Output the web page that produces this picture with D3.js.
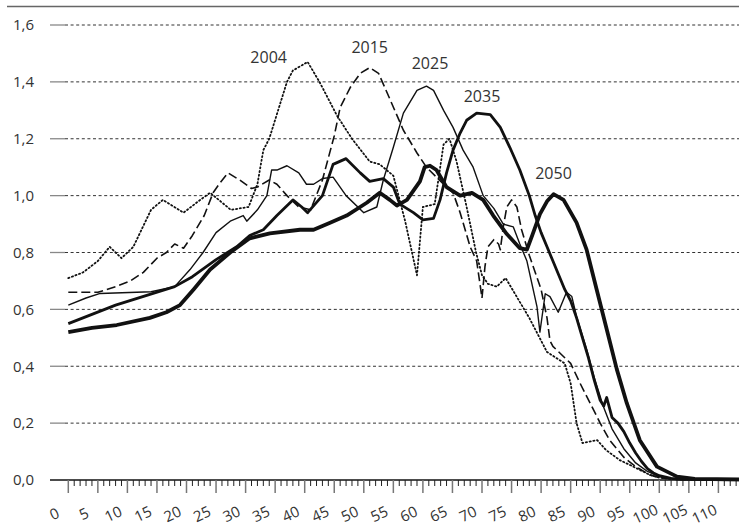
<!DOCTYPE html>
<html>
<head>
<meta charset="utf-8">
<script src="https://cdn.jsdelivr.net/npm/d3@7"></script>
<style>
  body { margin: 0; background: #fff; }
  text { font-family: 'Open Sans', 'Noto Sans', sans-serif; fill: #333; }
</style>
</head>
<body>
<svg id="chart" width="739" height="529"></svg>
<script>
// values: knots (age, ratio) for each projection year
const ages2004 = [0, 2.5, 5, 7, 9, 11, 14, 16, 19.5, 22, 24, 27.5, 30.5, 32, 33, 34, 37, 38, 40.5, 42.5, 45.5, 48, 51, 52.7, 55, 57, 59, 60, 62, 63.5, 64.5, 65.7, 67.4, 69, 70, 71, 72.5, 74, 76, 78, 80, 81, 84, 85, 86, 87, 89.5, 91, 93.3, 95.6, 98.4, 100, 103, 114];
const vals2004 = [0.71, 0.73, 0.77, 0.82, 0.78, 0.82, 0.95, 0.985, 0.94, 0.98, 1.01, 0.95, 0.96, 1.04, 1.16, 1.2, 1.40, 1.44, 1.47, 1.40, 1.28, 1.2, 1.12, 1.11, 1.07, 0.91, 0.72, 0.96, 0.97, 1.18, 1.2, 1.12, 0.96, 0.80, 0.72, 0.69, 0.68, 0.71, 0.64, 0.57, 0.49, 0.45, 0.41, 0.34, 0.20, 0.13, 0.14, 0.105, 0.07, 0.047, 0.018, 0.008, 0.002, 0];

const ages2015 = [0, 5, 8, 10.5, 12.7, 15, 16.6, 18, 19.5, 21, 23, 24.5, 25.5, 27, 29, 31, 32, 34, 35.3, 37, 39, 41, 43, 45, 46, 47.7, 49.4, 51, 52.5, 54.4, 56.7, 59, 60.6, 62.3, 64, 65.1, 66.3, 68, 69.1, 70, 70.5, 71, 72, 72.8, 73.1, 73.6, 74.2, 75, 75.9, 76.7, 78, 80, 81, 81.5, 82, 84, 85, 86.6, 88.3, 90, 91.6, 94, 96, 98.4, 100, 103, 114];
const vals2015 = [0.66, 0.66, 0.68, 0.70, 0.73, 0.78, 0.80, 0.83, 0.815, 0.86, 0.93, 1.01, 1.04, 1.08, 1.055, 1.025, 1.03, 1.055, 1.04, 1.0, 0.96, 0.95, 1.055, 1.21, 1.31, 1.38, 1.43, 1.45, 1.43, 1.34, 1.23, 1.15, 1.10, 1.065, 1.03, 1.01, 0.94, 0.82, 0.77, 0.64, 0.75, 0.82, 0.845, 0.83, 0.81, 0.89, 0.96, 0.985, 0.96, 0.88, 0.79, 0.67, 0.57, 0.49, 0.47, 0.43, 0.41, 0.34, 0.27, 0.2, 0.14, 0.08, 0.047, 0.018, 0.008, 0.002, 0];

const ages2025 = [0, 3, 5.4, 14, 18, 20.6, 22.8, 25, 27.4, 29.6, 30.2, 32, 33.6, 34.4, 35.3, 37, 39, 40.3, 41.5, 43, 44.8, 47, 50, 52.2, 53.3, 55, 56.7, 59, 60.6, 61.8, 63.5, 65.1, 66.8, 68.5, 70.2, 72, 73.6, 75.3, 76.4, 77.6, 79.3, 79.8, 80.7, 81.5, 82.9, 84.3, 85.2, 86, 87.7, 89, 90.5, 92, 94, 96, 98, 100, 103, 114];
const vals2025 = [0.615, 0.64, 0.656, 0.662, 0.68, 0.74, 0.80, 0.87, 0.91, 0.93, 0.91, 0.95, 1.0, 1.09, 1.09, 1.105, 1.08, 1.04, 1.04, 1.06, 1.065, 1.0, 0.94, 0.96, 1.055, 1.17, 1.29, 1.37, 1.385, 1.37, 1.30, 1.24, 1.16, 1.10, 1.0, 0.955, 0.90, 0.89, 0.83, 0.77, 0.61, 0.52, 0.655, 0.645, 0.59, 0.66, 0.645, 0.575, 0.46, 0.36, 0.26, 0.18, 0.11, 0.06, 0.03, 0.012, 0.003, 0];

const ages2035 = [0, 8, 18, 21, 25, 28.5, 30.7, 33, 35.3, 38, 39.5, 40.5, 43, 44.8, 47, 49.4, 51, 53.3, 55, 56.1, 58.4, 60, 61.8, 62.9, 64, 65.1, 66.3, 67.4, 69.1, 71.4, 73.1, 74.7, 76.4, 78, 79, 80, 81, 82, 83, 84, 85, 86, 87, 88, 89, 90, 90.6, 91.1, 92, 93, 94, 95, 96, 97, 98, 99, 100, 102, 104, 114];
const vals2035 = [0.55, 0.615, 0.68, 0.715, 0.775, 0.82, 0.86, 0.88, 0.93, 0.985, 0.96, 0.94, 1.0, 1.11, 1.13, 1.08, 1.05, 1.06, 1.03, 0.97, 0.94, 0.915, 0.92, 0.985, 1.08, 1.16, 1.22, 1.265, 1.29, 1.285, 1.24, 1.17, 1.09, 1.0, 0.93, 0.87, 0.82, 0.77, 0.72, 0.67, 0.63, 0.57, 0.5, 0.43, 0.35, 0.28, 0.26, 0.29, 0.22, 0.2, 0.17, 0.13, 0.095, 0.065, 0.04, 0.025, 0.015, 0.006, 0.002, 0];

const ages2050 = [0, 4, 8.2, 13.8, 16.6, 18.9, 21.2, 24, 27.4, 30.7, 34.1, 39.2, 41.5, 44.3, 47.1, 50.5, 52.7, 54.4, 55.6, 57.3, 59.5, 60.3, 61.2, 62.3, 64, 66.3, 68.3, 70.2, 71.9, 74.2, 76.4, 77.6, 78.5, 79.8, 81, 82.1, 83.8, 86, 87.7, 89.4, 91.1, 92.8, 94.5, 96.7, 99.6, 103, 106, 114];
const vals2050 = [0.52, 0.535, 0.545, 0.57, 0.59, 0.615, 0.67, 0.74, 0.80, 0.85, 0.867, 0.88, 0.88, 0.905, 0.93, 0.975, 1.01, 0.985, 0.965, 0.985, 1.05, 1.10, 1.105, 1.09, 1.03, 1.0, 1.01, 0.985, 0.93, 0.865, 0.815, 0.81, 0.86, 0.935, 0.98, 1.005, 0.985, 0.905, 0.81, 0.67, 0.53, 0.39, 0.27, 0.14, 0.047, 0.012, 0.004, 0.002];

const seriesNames = ['2004', '2015', '2025', '2035', '2050'];
// where each year label sits, in data units (age, ratio)
const labelAges = [33.9, 51.0, 61.2, 70.0, 82.1];
const labelVals = [1.466, 1.501, 1.445, 1.329, 1.058];

const yTicks = [0, 0.2, 0.4, 0.6, 0.8, 1.0, 1.2, 1.4, 1.6];
const xLabels = d3.range(0, 111, 5);

const series = [
  { name: '2004', ages: ages2004, vals: vals2004, width: 1.8, dash: '1.2,2.6', cap: 'round' },
  { name: '2015', ages: ages2015, vals: vals2015, width: 1.6, dash: '9,4', cap: 'butt' },
  { name: '2025', ages: ages2025, vals: vals2025, width: 1.4, dash: null, cap: 'butt' },
  { name: '2035', ages: ages2035, vals: vals2035, width: 2.8, dash: null, cap: 'butt' },
  { name: '2050', ages: ages2050, vals: vals2050, width: 3.8, dash: null, cap: 'butt' },
];

const svg = d3.select('#chart');
const W = 739;

const x = d3.scaleLinear().domain([0, 110]).range([68.3, 718.4]);
const y = d3.scaleLinear().domain([0, 1.6]).range([480, 25]);

// frame line on top
svg.append('line')
  .attr('x1', 7).attr('x2', W).attr('y1', 6.5).attr('y2', 6.5)
  .attr('stroke', '#666').attr('stroke-width', 1.4);

// gridlines: small solid grey stub, then dashed line
const grid = svg.append('g');
yTicks.filter(d => d > 0).forEach(d => {
  grid.append('line')
    .attr('x1', 50).attr('x2', 65).attr('y1', y(d)).attr('y2', y(d))
    .attr('stroke', '#888').attr('stroke-width', 1.3);
  grid.append('line')
    .attr('x1', 65).attr('x2', W).attr('y1', y(d)).attr('y2', y(d))
    .attr('stroke', '#333').attr('stroke-width', 1)
    .attr('stroke-dasharray', '3,2.6');
});

svg.append('g').selectAll('text')
  .data(yTicks)
  .join('text')
  .attr('x', 34)
  .attr('y', d => y(d))
  .attr('dy', '0.35em')
  .attr('text-anchor', 'end')
  .style('font-size', '15px')
  .text(d => d3.format('.1f')(d).replace('.', ','));

// x axis
const axis = svg.append('g');
axis.append('line')
  .attr('x1', 50).attr('x2', W).attr('y1', y(0)).attr('y2', y(0))
  .attr('stroke', '#111').attr('stroke-width', 1.4);

const tickAges = d3.range(0, 114);
axis.selectAll('line.tick')
  .data(tickAges)
  .join('line')
  .attr('class', 'tick')
  .attr('x1', d => x(d)).attr('x2', d => x(d))
  .attr('y1', y(0))
  .attr('y2', d => d % 5 === 0 ? y(0) + 13 : y(0) + 6)
  .attr('stroke', d => d % 5 === 0 ? '#777' : '#222')
  .attr('stroke-width', d => d % 5 === 0 ? 1.5 : 1);

axis.selectAll('text')
  .data(xLabels)
  .join('text')
  .attr('transform', d => `translate(${x(d) - 14},514) rotate(-25)`)
  .attr('text-anchor', 'middle')
  .attr('dy', '0.35em')
  .style('font-size', '15px')
  .text(d => d);

// series lines
const line = d3.line()
  .x(d => x(d[0]))
  .y(d => y(d[1]))
  .curve(d3.curveLinear);

svg.append('g').selectAll('path')
  .data(series)
  .join('path')
  .attr('d', s => line(d3.zip(s.ages, s.vals)))
  .attr('fill', 'none')
  .attr('stroke', '#111')
  .attr('stroke-width', s => s.width)
  .attr('stroke-linejoin', 'round')
  .attr('stroke-linecap', s => s.cap)
  .attr('stroke-dasharray', s => s.dash);

// year labels
svg.append('g').selectAll('text')
  .data(seriesNames)
  .join('text')
  .attr('x', (d, i) => x(labelAges[i]))
  .attr('y', (d, i) => y(labelVals[i]))
  .attr('text-anchor', 'middle')
  .style('font-size', '16px')
  .text(d => d);
</script>
</body>
</html>
